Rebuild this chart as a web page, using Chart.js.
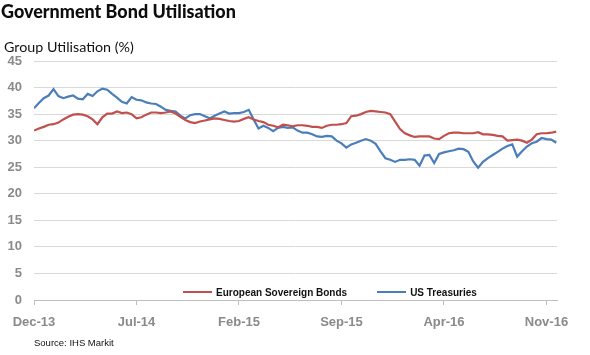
<!DOCTYPE html>
<html>
<head>
<meta charset="utf-8">
<script src="https://cdn.jsdelivr.net/npm/chart.js@4.4.0/dist/chart.umd.min.js"></script>
<style>
  html, body { margin: 0; padding: 0; background: #fff; width: 590px; height: 355px; overflow: hidden; }
  #wrap { position: relative; width: 590px; height: 355px; }
  canvas { position: absolute; left: 0; top: 0; }
  .txt { position: absolute; white-space: nowrap; line-height: 1; }
  #title { left: 1px; top: 3px; font-family: Lato, "Open Sans", sans-serif; font-weight: 900; font-size: 18px; color: #0d0d0d; }
  #ytitle { left: 4px; top: 40px; font-family: Lato, "Open Sans", sans-serif; font-size: 14px; color: #111; }
  #source { left: 34px; top: 338px; font-family: "Liberation Sans", Arial, sans-serif; font-size: 9.5px; color: #111; }
  #legend { position: absolute; left: 183px; top: 284px; font-family: "Liberation Sans", Arial, sans-serif; font-size: 10px; font-weight: bold; color: #111; white-space: nowrap; }
  .item { display: inline-flex; align-items: center; margin-right: 30px; }
  .swatch { display: inline-block; width: 29px; height: 2px; margin-right: 4px; }
</style>
</head>
<body>
<div id="wrap">
  <canvas id="c" width="590" height="355"></canvas>
  <div class="txt" id="title">Government Bond Utilisation</div>
  <div class="txt" id="ytitle">Group Utilisation (%)</div>
  <div id="legend"></div>
  <div class="txt" id="source">Source: IHS Markit</div>
</div>
<script>
// ---- Data ----
// Months since Dec-13 for the x-axis tick marks, and their labels
const tickMonths = [0, 7, 14, 21, 28, 35];
const tickLabels = ["Dec-13", "Jul-14", "Feb-15", "Sep-15", "Apr-16", "Nov-16"];
// Series sampled every third of a month starting Dec-13
const sampleStepMonths = 1 / 3;
const seriesNames = ["European Sovereign Bonds", "US Treasuries"];
const europeanSovereign = [
  31.9, 32.3, 32.6, 33.0, 33.1, 33.4, 34.0, 34.5, 34.9, 35.0,
  34.9, 34.6, 34.0, 33.1, 34.4, 35.1, 35.1, 35.5, 35.2, 35.3,
  35.0, 34.2, 34.4, 34.9, 35.3, 35.3, 35.2, 35.3, 35.5, 35.1,
  34.5, 33.9, 33.5, 33.3, 33.6, 33.8, 34.0, 34.2, 34.1, 33.9,
  33.7, 33.6, 33.7, 34.1, 34.4, 34.0, 33.7, 33.5, 33.0, 32.8,
  32.5, 33.0, 32.9, 32.7, 32.9, 32.9, 32.8, 32.6, 32.6, 32.4,
  32.8, 33.0, 33.0, 33.1, 33.3, 34.6, 34.7, 35.0, 35.4, 35.6,
  35.5, 35.4, 35.3, 35.0, 33.6, 32.2, 31.4, 31.0, 30.7, 30.8,
  30.8, 30.8, 30.4, 30.3, 30.9, 31.4, 31.5, 31.5, 31.4, 31.4,
  31.4, 31.6, 31.2, 31.2, 31.1, 30.9, 30.8, 30.0, 30.1, 30.2,
  30.0, 29.6, 30.2, 31.2, 31.4, 31.4, 31.5, 31.7
];
const usTreasuries = [
  36.1, 37.1, 38.0, 38.5, 39.7, 38.4, 38.0, 38.3, 38.5, 37.9,
  37.8, 38.8, 38.4, 39.3, 39.8, 39.6, 38.8, 38.1, 37.3, 37.0,
  38.2, 37.7, 37.6, 37.2, 37.0, 36.9, 36.4, 35.8, 35.6, 35.5,
  34.7, 34.2, 34.8, 35.0, 35.0, 34.6, 34.2, 34.7, 35.1, 35.5,
  35.1, 35.2, 35.2, 35.4, 35.8, 34.0, 32.3, 32.8, 32.4, 31.8,
  32.4, 32.6, 32.4, 32.5, 31.9, 31.5, 31.5, 31.2, 30.8, 30.7,
  30.9, 30.8, 30.0, 29.5, 28.7, 29.3, 29.6, 30.0, 30.3, 30.0,
  29.4, 28.0, 26.7, 26.4, 26.0, 26.4, 26.4, 26.5, 26.4, 25.3,
  27.2, 27.3, 25.8, 27.5, 27.8, 28.0, 28.2, 28.5, 28.4, 27.9,
  26.1, 24.9, 26.0, 26.7, 27.3, 27.9, 28.5, 29.0, 29.3, 27.0,
  28.0, 28.9, 29.5, 29.8, 30.5, 30.3, 30.2, 29.6
];
const yMin = 0, yMax = 45, yStep = 5;
const xMaxMonths = 35.72;

const colors = ["#c0504d", "#4a7ebb"];

function toPoints(arr) {
  return arr.map((v, i) => ({ x: i * sampleStepMonths, y: v }));
}

// Legend (HTML)
const legend = document.getElementById('legend');
seriesNames.forEach((n, i) => {
  const it = document.createElement('span');
  it.className = 'item';
  const sw = document.createElement('span');
  sw.className = 'swatch';
  sw.style.background = colors[i];
  const t = document.createElement('span');
  t.textContent = n;
  it.appendChild(sw); it.appendChild(t);
  legend.appendChild(it);
});

function fitWidth(id, target) {
  const el = document.getElementById(id);
  let fs = parseFloat(getComputedStyle(el).fontSize);
  for (let k = 0; k < 20; k++) {
    const w = el.getBoundingClientRect().width;
    if (Math.abs(w - target) < 0.5) break;
    fs = fs * target / w;
    el.style.fontSize = fs + 'px';
  }
}
fitWidth('title', 235);
fitWidth('ytitle', 130);

const tickFont = { family: "'Liberation Sans', Arial, sans-serif", size: 13, weight: 'bold' };

new Chart(document.getElementById('c'), {
  type: 'line',
  data: {
    datasets: [
      { label: seriesNames[0], data: toPoints(europeanSovereign), borderColor: colors[0], backgroundColor: colors[0], borderWidth: 2.2, pointRadius: 0, tension: 0 },
      { label: seriesNames[1], data: toPoints(usTreasuries), borderColor: colors[1], backgroundColor: colors[1], borderWidth: 2.2, pointRadius: 0, tension: 0 }
    ]
  },
  options: {
    responsive: false,
    animation: false,
    events: [],
    layout: { padding: { top: 61, right: 33, left: 0, bottom: 0 } },
    plugins: { legend: { display: false }, tooltip: { enabled: false }, title: { display: false } },
    scales: {
      x: {
        type: 'linear',
        min: 0,
        max: xMaxMonths,
        afterBuildTicks: (s) => { s.ticks = tickMonths.map(v => ({ value: v })); },
        afterFit: (s) => { s.height = 55; },
        grid: { drawOnChartArea: false, drawTicks: true, tickLength: 5, color: '#bfbfbf' },
        border: { display: true, color: '#bfbfbf', width: 1 },
        ticks: {
          autoSkip: false, maxRotation: 0, padding: 10, color: '#8a8a8a', font: tickFont,
          callback: (v) => { const i = tickMonths.indexOf(v); return i >= 0 ? tickLabels[i] : ''; }
        }
      },
      y: {
        min: yMin, max: yMax,
        afterFit: (s) => { s.width = 34; },
        grid: { color: '#d9d9d9', drawTicks: false, lineWidth: 1 },
        border: { display: false },
        ticks: { stepSize: yStep, padding: 12, color: '#8a8a8a', font: tickFont }
      }
    }
  }
});
</script>
</body>
</html>
